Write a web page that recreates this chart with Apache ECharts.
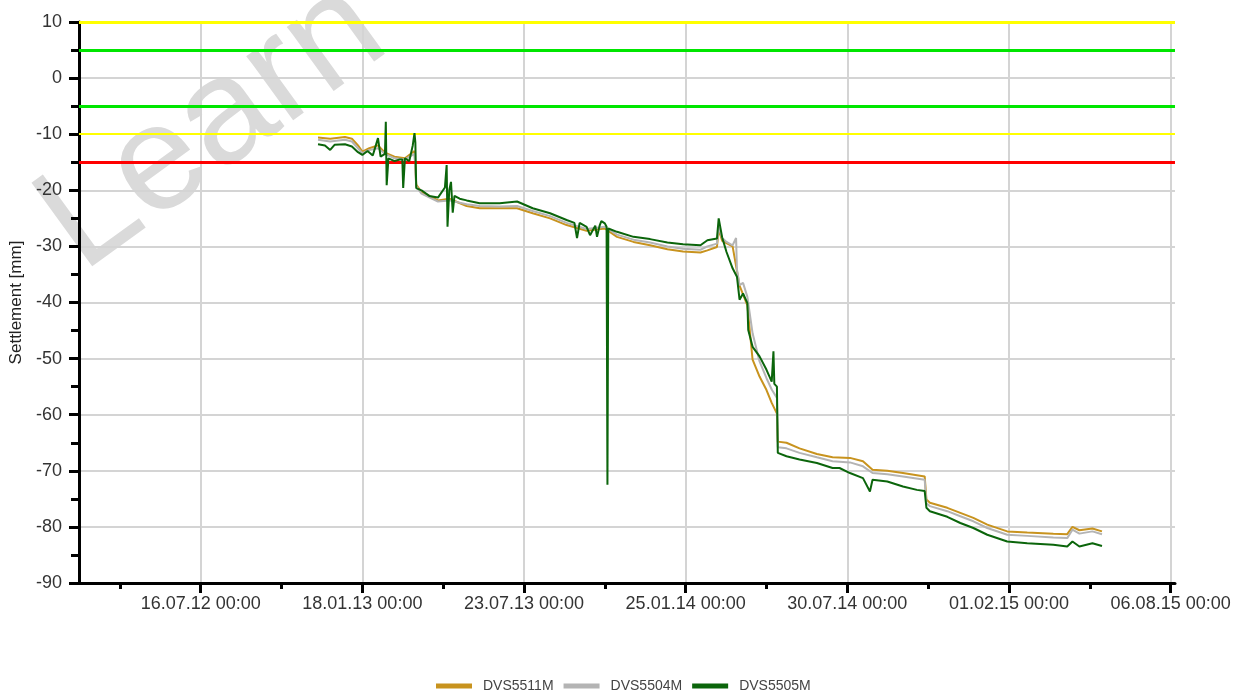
<!DOCTYPE html>
<html>
<head>
<meta charset="utf-8">
<title>Settlement</title>
<script src="https://cdn.jsdelivr.net/npm/echarts@6/dist/echarts.min.js"></script>
<style>
  html, body { margin: 0; padding: 0; background: #fff; }
  #main { width: 1238px; height: 695px; }
</style>
</head>
<body>
<div id="main"></div>
<script>
// sensor names (legend order)
var seriesNames = ['DVS5511M', 'DVS5504M', 'DVS5505M'];

// DVS5511M (orange)
var dvs5511Dates = ['2012-11-28','2012-12-12','2012-12-29','2013-01-06','2013-01-13','2013-01-18','2013-01-26','2013-02-05','2013-02-13','2013-02-24','2013-03-08','2013-03-19','2013-03-21','2013-03-27','2013-04-15','2013-04-28','2013-05-18','2013-06-02','2013-06-25','2013-07-15','2013-08-02','2013-08-22','2013-09-10','2013-10-03','2013-10-24','2013-11-07','2013-11-26','2013-12-15','2014-01-04','2014-01-22','2014-02-11','2014-02-19','2014-03-02','2014-03-04','2014-03-08','2014-03-20','2014-03-28','2014-04-06','2014-04-12','2014-04-20','2014-04-28','2014-05-04','2014-05-10','2014-05-11','2014-05-21','2014-06-05','2014-06-25','2014-07-13','2014-08-02','2014-08-17','2014-08-28','2014-09-14','2014-10-02','2014-10-27','2014-10-29','2014-11-02','2014-11-22','2014-12-07','2014-12-22','2015-01-07','2015-01-30','2015-02-22','2015-03-24','2015-04-09','2015-04-15','2015-04-23','2015-05-08','2015-05-19'];
var dvs5511Values = [-10.6,-10.8,-10.5,-10.8,-12.0,-13.1,-12.5,-12.0,-13.3,-14.0,-14.3,-13.0,-19.0,-20.3,-21.8,-21.5,-22.8,-23.2,-23.2,-23.2,-24.1,-25.0,-26.2,-27.2,-26.8,-28.3,-29.2,-29.8,-30.5,-30.9,-31.1,-30.7,-30.1,-27.0,-29.0,-30.0,-37.0,-40.5,-50.2,-53.2,-55.6,-57.9,-59.8,-64.8,-65.0,-66.0,-67.0,-67.6,-67.7,-68.3,-69.8,-70.0,-70.4,-71.0,-75.1,-75.7,-76.6,-77.5,-78.4,-79.6,-80.8,-81.0,-81.2,-81.3,-80.0,-80.6,-80.3,-80.8];

// DVS5504M (grey)
var dvs5504Dates = ['2012-11-28','2012-12-12','2012-12-29','2013-01-06','2013-01-13','2013-01-18','2013-01-26','2013-02-05','2013-02-13','2013-02-24','2013-03-08','2013-03-19','2013-03-21','2013-03-27','2013-04-15','2013-04-28','2013-05-18','2013-06-02','2013-06-25','2013-07-15','2013-08-02','2013-08-22','2013-09-10','2013-10-03','2013-10-24','2013-11-07','2013-11-26','2013-12-15','2014-01-04','2014-01-22','2014-02-11','2014-02-19','2014-03-02','2014-03-04','2014-03-08','2014-03-13','2014-03-20','2014-03-24','2014-03-25','2014-03-28','2014-04-01','2014-04-06','2014-04-12','2014-04-20','2014-04-28','2014-05-04','2014-05-10','2014-05-11','2014-05-21','2014-06-05','2014-06-25','2014-07-13','2014-08-02','2014-08-17','2014-08-28','2014-09-14','2014-10-02','2014-10-27','2014-10-29','2014-11-02','2014-11-22','2014-12-07','2014-12-22','2015-01-07','2015-01-30','2015-02-22','2015-03-24','2015-04-09','2015-04-15','2015-04-23','2015-05-08','2015-05-19'];
var dvs5504Values = [-11.0,-11.3,-11.0,-11.3,-12.5,-13.4,-12.8,-12.5,-13.5,-14.3,-14.5,-13.5,-19.3,-20.6,-22.0,-21.8,-22.5,-22.8,-22.9,-22.8,-23.7,-24.6,-25.8,-26.9,-26.5,-27.9,-28.8,-29.3,-30.0,-30.4,-30.6,-30.0,-29.5,-26.5,-28.5,-29.2,-29.8,-28.5,-34.1,-36.9,-36.5,-39.0,-45.5,-50.5,-53.5,-55.5,-57.0,-65.8,-66.0,-66.8,-67.6,-68.3,-68.5,-69.2,-70.4,-70.6,-71.0,-71.6,-75.8,-76.3,-77.2,-78.1,-79.0,-80.2,-81.4,-81.6,-81.9,-82.0,-80.5,-81.2,-80.8,-81.3];

// DVS5505M (green)
var dvs5505Dates = ['2012-11-28','2012-12-06','2012-12-12','2012-12-17','2012-12-29','2013-01-06','2013-01-13','2013-01-18','2013-01-24','2013-01-30','2013-02-05','2013-02-08','2013-02-13','2013-02-14','2013-02-15','2013-02-17','2013-02-24','2013-03-02','2013-03-05','2013-03-06','2013-03-08','2013-03-13','2013-03-17','2013-03-19','2013-03-20','2013-03-21','2013-03-27','2013-04-05','2013-04-15','2013-04-23','2013-04-25','2013-04-26','2013-04-28','2013-04-30','2013-05-02','2013-05-04','2013-05-10','2013-05-18','2013-06-02','2013-06-25','2013-07-15','2013-08-02','2013-08-22','2013-09-10','2013-09-19','2013-09-22','2013-09-25','2013-10-03','2013-10-07','2013-10-13','2013-10-15','2013-10-18','2013-10-20','2013-10-24','2013-10-26','2013-10-27','2013-10-28','2013-11-07','2013-11-26','2013-12-15','2014-01-04','2014-01-22','2014-02-11','2014-02-19','2014-03-02','2014-03-04','2014-03-08','2014-03-13','2014-03-20','2014-03-25','2014-03-28','2014-04-01','2014-04-06','2014-04-07','2014-04-12','2014-04-20','2014-04-28','2014-05-04','2014-05-06','2014-05-07','2014-05-10','2014-05-11','2014-05-21','2014-06-05','2014-06-25','2014-07-13','2014-07-21','2014-08-02','2014-08-17','2014-08-25','2014-08-28','2014-09-14','2014-10-02','2014-10-18','2014-10-27','2014-10-29','2014-11-02','2014-11-22','2014-12-07','2014-12-22','2015-01-07','2015-01-30','2015-02-22','2015-03-24','2015-04-09','2015-04-15','2015-04-23','2015-05-08','2015-05-19'];
var dvs5505Values = [-11.8,-12.0,-12.8,-11.9,-11.8,-12.2,-13.2,-13.7,-13.0,-13.8,-10.7,-14.0,-13.5,-7.8,-19.1,-14.3,-14.8,-14.5,-14.5,-19.6,-14.3,-14.8,-12.0,-9.8,-11.5,-19.6,-20.0,-21.0,-21.3,-19.5,-15.5,-26.5,-20.0,-18.5,-24.0,-21.0,-21.5,-21.8,-22.3,-22.3,-22.0,-23.2,-24.1,-25.3,-25.8,-28.5,-25.8,-26.5,-28.0,-26.3,-28.3,-26.3,-25.5,-25.9,-26.5,-72.5,-26.8,-27.4,-28.3,-28.7,-29.3,-29.6,-29.8,-28.9,-28.6,-25.0,-28.4,-31.0,-33.9,-35.4,-39.5,-38.4,-40.1,-44.9,-47.9,-49.6,-52.0,-54.1,-48.7,-54.5,-55.0,-66.8,-67.4,-68.0,-68.6,-69.5,-69.5,-70.4,-71.3,-73.7,-71.6,-71.9,-72.8,-73.4,-73.6,-76.6,-77.2,-78.2,-79.3,-80.2,-81.4,-82.6,-82.9,-83.2,-83.5,-82.6,-83.5,-82.9,-83.4];

// alarm limits [mm]
var limitValues = [10, 5, -5, -10, -15];

// x axis ticks
var majorTicks = ['2012-07-16','2013-01-18','2013-07-23','2014-01-25','2014-07-30','2015-02-01','2015-08-06'];
var minorTicks = ['2012-04-14','2012-10-17','2013-04-21','2013-10-24','2014-04-28','2014-10-31','2015-05-05'];
var xRange = ['2012-02-27', '2015-08-11'];

var colors = ['#c8931e', '#b4b4b4', '#0b650b'];
var limitColors = ['#ffff00', '#00e600', '#00e600', '#ffff00', '#ff0000'];
var limitWidths = [3, 3, 3, 2, 3];

function toTime(s) {
  var p = s.split('-');
  return Date.UTC(+p[0], +p[1] - 1, +p[2]);
}
function pad(n) { return (n < 10 ? '0' : '') + n; }
function fmtDate(v) {
  var d = new Date(v);
  return pad(d.getUTCDate()) + '.' + pad(d.getUTCMonth() + 1) + '.' +
    String(d.getUTCFullYear()).slice(2) + ' 00:00';
}
function pairs(dates, values) {
  return dates.map(function (d, i) { return [toTime(d), values[i]]; });
}

var allDates = [dvs5511Dates, dvs5504Dates, dvs5505Dates];
var allValues = [dvs5511Values, dvs5504Values, dvs5505Values];

var font = '"Liberation Sans", Arial, sans-serif';
var myChart = echarts.init(document.getElementById('main'));

var series = seriesNames.map(function (name, i) {
  return {
    name: name,
    type: 'line',
    showSymbol: false,
    symbol: 'none',
    z: 3 + i,
    lineStyle: { color: colors[i], width: 2 },
    itemStyle: { color: colors[i] },
    data: pairs(allDates[i], allValues[i])
  };
});

// limit lines, drawn under the measurements
series.unshift({
  name: 'limits',
  type: 'line',
  data: [],
  z: 2,
  silent: true,
  markLine: {
    symbol: 'none',
    silent: true,
    animation: false,
    label: { show: false },
    data: limitValues.map(function (v, i) {
      return { yAxis: v, lineStyle: { color: limitColors[i], width: limitWidths[i], type: 'solid' } };
    })
  }
});

var option = {
  animation: false,
  backgroundColor: '#fff',
  grid: { left: 79, right: 63, top: 22, bottom: 112, outerBoundsMode: 'none' },
  legend: {
    data: seriesNames,
    left: 436,
    top: 679,
    padding: 0,
    icon: 'rect',
    itemWidth: 36,
    itemHeight: 5,
    itemGap: 10,
    textStyle: { fontFamily: font, fontSize: 14, color: '#444', padding: [0, 0, 0, 6] }
  },
  xAxis: [
    {
      type: 'value',
      position: 'bottom',
      min: toTime(xRange[0]),
      max: toTime(xRange[1]),
      axisLine: { onZero: false, lineStyle: { color: '#000', width: 3 } },
      axisTick: { customValues: majorTicks.map(toTime), length: 10, lineStyle: { color: '#000', width: 3 } },
      axisLabel: {
        customValues: majorTicks.map(toTime),
        formatter: fmtDate,
        fontFamily: font, fontSize: 18, color: '#333', margin: 12
      },
      splitLine: { show: true, lineStyle: { color: '#d4d4d4', width: 2 } }
    },
    {
      type: 'value',
      position: 'bottom',
      offset: 0,
      min: toTime(xRange[0]),
      max: toTime(xRange[1]),
      axisLine: { show: false, onZero: false },
      axisTick: { customValues: minorTicks.map(toTime), length: 6, lineStyle: { color: '#000', width: 3 } },
      axisLabel: { show: false },
      splitLine: { show: false }
    }
  ],
  yAxis: {
    type: 'value',
    min: -90,
    max: 10,
    interval: 10,
    name: 'Settlement [mm]',
    nameLocation: 'middle',
    nameGap: 50,
    nameTextStyle: { fontFamily: font, fontSize: 17, color: '#222' },
    axisLine: { show: true, onZero: false, lineStyle: { color: '#000', width: 3 } },
    axisTick: { show: true, length: 10, lineStyle: { color: '#000', width: 3 } },
    minorTick: { show: true, splitNumber: 2, length: 8, lineStyle: { color: '#000', width: 3 } },
    axisLabel: { fontFamily: font, fontSize: 18, color: '#333', margin: 17 },
    splitLine: { show: true, lineStyle: { color: '#d4d4d4', width: 2 } }
  },
  graphic: [
    {
      type: 'text',
      x: 58,
      y: 240,
      rotation: 36 * Math.PI / 180,
      z: -1,
      silent: true,
      style: {
        text: 'Learn',
        fontFamily: font,
        fontSize: 150,
        fill: '#dadada',
        align: 'left',
        verticalAlign: 'middle'
      }
    }
  ],
  series: series
};

myChart.setOption(option);
</script>
</body>
</html>
